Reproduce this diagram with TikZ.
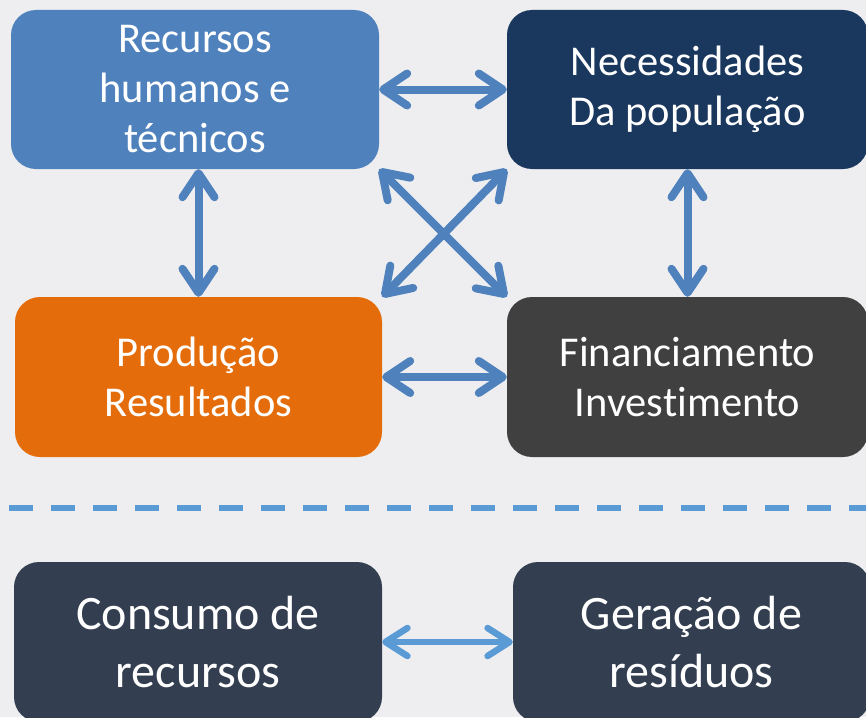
\documentclass[tikz,border=0pt]{standalone}
\usepackage{fontspec}
\setmainfont{Carlito}[Ligatures=NoCommon]
\usetikzlibrary{arrows.meta}
\definecolor{bg}{RGB}{238,238,240}
\definecolor{cA}{RGB}{79,129,189}
\definecolor{cB}{RGB}{26,55,94}
\definecolor{cC}{RGB}{228,108,10}
\definecolor{cD}{RGB}{64,64,64}
\definecolor{cE}{RGB}{51,63,80}
\definecolor{cL}{RGB}{91,155,213}
\begin{document}
\begin{tikzpicture}[x=1pt,y=-1pt,
  box/.style={rounded corners=25pt, inner sep=0pt, align=center, text=white,
    font=\fontsize{42.5}{50}\selectfont},
  bigbox/.style={box, font=\fontsize{48}{58}\selectfont},
  tipA/.tip={Straight Barb[length=24pt,width=32pt,round]},
  link/.style={draw=cA, line width=8pt, tipA-tipA,
    preaction={draw=black, opacity=0.18, transform canvas={shift={(1.5pt,-2.5pt)}}}},
  thinlink/.style={draw=cL, line width=6.5pt, {Straight Barb[length=22pt,width=28pt,round]}-{Straight Barb[length=22pt,width=28pt,round]}}
]
\path[use as bounding box, fill=bg] (0,0) rectangle (866,717);
\clip (0,0) rectangle (866,717);

\node[box, fill=cA, minimum width=368pt, minimum height=159pt] (A) at (195,89.5) {Recursos\\humanos e\\técnicos};
\node[box, fill=cB, minimum width=361pt, minimum height=159pt] (B) at (687.5,89.5) {Necessidades\\Da população};
\node[box, fill=cC, minimum width=367pt, minimum height=160pt] (C) at (198.5,377) {Produção\\Resultados};
\node[box, fill=cD, minimum width=361pt, minimum height=160pt] (D) at (687.5,377) {Financiamento\\Investimento};

\draw[link] (A.east) -- (B.west);
\draw[link] (C.east) -- (D.west);
\draw[link] (C.north |- A.south) -- (C.north);
\draw[link] (B.south) -- (D.north);
\draw[link] (A.south east) -- (D.north west);
\draw[link] (C.north east) -- (B.south west);

\coordinate (L1) at (9,508);
\coordinate (L2) at (866,508);
\draw[cL, line width=6pt, dash pattern=on 24pt off 18pt] (L1) -- (L2);

\node[bigbox, fill=cE, minimum width=368pt, minimum height=160pt] (E) at (198,642) {Consumo de\\recursos};
\node[bigbox, fill=cE, minimum width=357pt, minimum height=160pt] (F) at (691.5,642) {Geração de\\resíduos};

\draw[thinlink] (E.east) -- (F.west);
\end{tikzpicture}
\end{document}
